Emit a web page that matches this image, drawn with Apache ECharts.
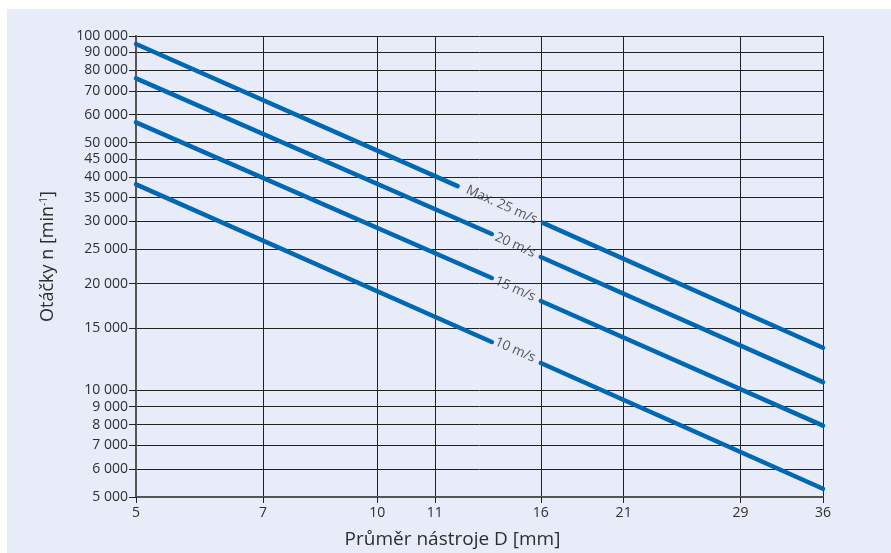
<!DOCTYPE html>
<html><head><meta charset="utf-8">
<script src="https://cdn.jsdelivr.net/npm/echarts@6.0.0/dist/echarts.min.js"></script>
<style>
html,body{margin:0;padding:0;background:#fff;}
#bg{position:absolute;left:7px;top:9px;width:884px;height:544px;background:#e8ecf8;}
#chart{position:absolute;left:0;top:0;width:891px;height:553px;}
</style>
</head><body><div id="bg"></div><div id="chart"></div>
<script>
// Tick positions (where the reference draws its grid lines) and their printed labels
const xTickValues = [5, 7.2, 10, 11.8, 16, 20.3, 28.4, 36];
const xTickLabels = ['5', '7', '10', '11', '16', '21', '29', '36'];
const yTickValues = [100000, 90000, 80000, 70000, 60000, 50000, 45000, 40000, 35000, 30000,
                     25000, 20000, 15000, 10000, 9000, 8000, 7000, 6000, 5000];

// Cutting speed lines: [diameter mm, rpm]; '-' breaks the line where the label sits
const speedNames = ['Max. 25 m/s', '20 m/s', '15 m/s', '10 m/s'];
const speed25 = [[5, 94900], [12.6, 37700], [14.3, '-'], [16.1, 29700], [36, 13190]];
const speed20 = [[5, 75950], [13.9, 27620], [15, '-'], [16, 23780], [36, 10550]];
const speed15 = [[5, 57060], [13.9, 20750], [15, '-'], [16, 17870], [36, 7950]];
const speed10 = [[5, 38140], [13.9, 13690], [15, '-'], [16, 11940], [36, 5275]];
const labelAnchors = [[14.3, 33400], [14.86, 25700], [14.86, 19320], [14.86, 13000]];

const FONT = '"Open Sans", "Noto Sans", sans-serif';
const TXT = '#2e2e2e';
const BLUE = '#0067b3';

function fmtThousands(v) {
  return Math.round(v).toString().replace(/\B(?=(\d{3})+(?!\d))/g, ' ');
}
function xLabel(v) {
  let best = 0;
  for (let i = 1; i < xTickValues.length; i++) {
    if (Math.abs(xTickValues[i] - v) < Math.abs(xTickValues[best] - v)) best = i;
  }
  return xTickLabels[best];
}

const lineSeries = [speed25, speed20, speed15, speed10].map((d, i) => ({
  type: 'line',
  name: speedNames[i],
  data: d,
  showSymbol: false,
  symbol: 'none',
  connectNulls: false,
  silent: true,
  z: 5,
  lineStyle: { color: BLUE, width: 4.5, cap: 'round' }
}));

const chart = echarts.init(document.getElementById('chart'), null, { renderer: 'canvas' });
chart.setOption({
  backgroundColor: 'transparent',
  animation: false,
  textStyle: { fontFamily: FONT },
  grid: { left: 136, right: 68, top: 36, bottom: 56, containLabel: false, outerBoundsMode: 'none' },
  xAxis: {
    type: 'log',
    logBase: 10,
    min: 5,
    max: 36,
    name: 'Průměr nástroje D [mm]',
    nameLocation: 'middle',
    nameGap: 33,
    nameTextStyle: { fontFamily: FONT, fontSize: 19, color: TXT, padding: [0, 54, 0, 0] },
    axisLine: { show: true, lineStyle: { color: '#555', width: 2 } },
    axisTick: { show: true, customValues: xTickValues, length: 6, lineStyle: { color: '#222', width: 1 } },
    axisLabel: { customValues: xTickValues, formatter: xLabel, color: TXT, fontFamily: FONT, fontSize: 14, margin: 9 },
    splitLine: { show: true, lineStyle: { color: '#222', width: 1 } },
    minorTick: { show: false },
    minorSplitLine: { show: false }
  },
  yAxis: {
    type: 'log',
    logBase: 10,
    min: 5000,
    max: 100000,
    name: 'Otáčky n [min{sup|-1}]',
    nameLocation: 'middle',
    nameRotate: 90,
    nameGap: 79,
    nameTextStyle: {
      fontFamily: FONT, fontSize: 18, color: TXT, padding: [0, 0, 0, 20],
      rich: { sup: { fontFamily: FONT, fontSize: 10, color: TXT, verticalAlign: 'top', padding: [0, 0, 8, 0] } }
    },
    axisLine: { show: true, lineStyle: { color: '#555', width: 2 } },
    axisTick: { show: true, customValues: yTickValues, length: 7, lineStyle: { color: '#222', width: 1 } },
    axisLabel: { customValues: yTickValues, formatter: fmtThousands, color: TXT, fontFamily: FONT, fontSize: 14, margin: 8 },
    splitLine: { show: true, lineStyle: { color: '#222', width: 1 } },
    minorTick: { show: false },
    minorSplitLine: { show: false }
  },
  series: lineSeries.concat([{
    type: 'scatter',
    data: labelAnchors,
    symbolSize: 1,
    silent: true,
    z: 6,
    itemStyle: { color: 'rgba(0,0,0,0)' },
    label: {
      show: true,
      position: 'inside',
      rotate: -24,
      formatter: p => speedNames[p.dataIndex],
      color: TXT,
      fontFamily: FONT,
      fontSize: 13.5
    }
  }])
});
</script>
</body></html>
